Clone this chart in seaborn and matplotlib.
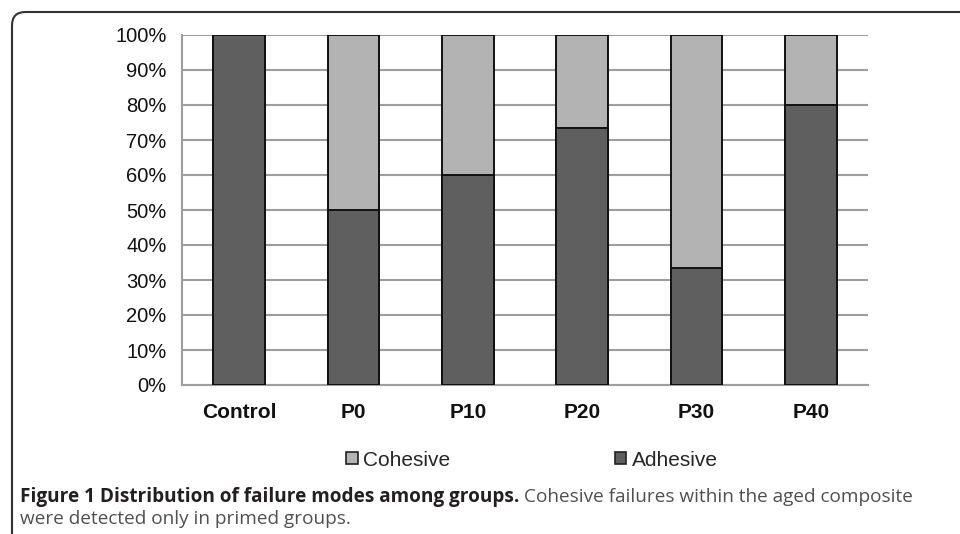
import numpy as np
import pandas as pd
import matplotlib
matplotlib.use("Agg")
import matplotlib.pyplot as plt
from matplotlib.patches import Patch, FancyBboxPatch
import seaborn as sns

# -------------------------------
# Data
# -------------------------------
groups = ["Control", "P0", "P10", "P20", "P30", "P40"]
adhesive = [100, 50, 60, 73.3, 33.3, 80]
cohesive = [0, 50, 40, 26.7, 66.7, 20]

ADH_COLOR = "#5f5f5f"
COH_COLOR = "#b3b3b3"
GRID_COLOR = "#9e9e9e"

df = pd.DataFrame({"group": groups, "adhesive": adhesive, "cohesive": cohesive})
df["total"] = df["adhesive"] + df["cohesive"]

# -------------------------------
# Figure
# -------------------------------
sns.set_style("white")
plt.rcParams["font.family"] = ["Liberation Sans", "DejaVu Sans"]

fig = plt.figure(figsize=(9.6, 5.34), dpi=100)
ax = fig.add_axes([182 / 960, 1 - 385 / 534, (868 - 182) / 960, 350 / 534])

# stacked bars: total (cohesive on top) then adhesive over it
sns.barplot(data=df, x="group", y="total", color=COH_COLOR, width=0.45,
            edgecolor="#111111", linewidth=1.4, saturation=1, ax=ax, zorder=3)
sns.barplot(data=df, x="group", y="adhesive", color=ADH_COLOR, width=0.45,
            edgecolor="#111111", linewidth=1.4, saturation=1, ax=ax, zorder=4)

ax.set_xlim(-0.5, len(groups) - 0.5)
ax.set_ylim(0, 100)
ax.set_yticks(np.arange(0, 101, 10))
ax.set_yticklabels([f"{v}%" for v in range(0, 101, 10)], fontsize=14.5, color="#111111")
ax.set_xticklabels(groups, fontsize=15, fontweight="bold", color="#111111")
ax.set_xlabel("")
ax.set_ylabel("")

ax.yaxis.grid(True, color=GRID_COLOR, linewidth=1.5, zorder=0)
ax.set_axisbelow(True)

for s in ["top", "right"]:
    ax.spines[s].set_visible(False)
for s in ["left", "bottom"]:
    ax.spines[s].set_color(GRID_COLOR)
    ax.spines[s].set_linewidth(1.5)

ax.tick_params(axis="y", length=6, width=1.5, color=GRID_COLOR, pad=5)
ax.tick_params(axis="x", which="major", length=0, pad=13)
ax.set_xticks(np.arange(-0.5, len(groups)), minor=True)
ax.tick_params(axis="x", which="minor", length=6, width=1.5, color=GRID_COLOR)

# -------------------------------
# Legend
# -------------------------------
handles = [Patch(facecolor=COH_COLOR, edgecolor="#222222", linewidth=1.2, label="Cohesive"),
           Patch(facecolor=ADH_COLOR, edgecolor="#222222", linewidth=1.2, label="Adhesive")]
fig.legend(handles=handles, loc="center", bbox_to_anchor=(532 / 960, 1 - 460 / 534),
           ncol=2, frameon=False, fontsize=15, handlelength=0.55, handleheight=0.55,
           handletextpad=0.25, columnspacing=7.9)

# -------------------------------
# Caption and border
# -------------------------------
cap_bold = fig.text(20 / 960, 1 - 497 / 534, "Figure 1 Distribution of failure modes among groups.",
                    fontsize=13.7, fontweight="bold", family="Open Sans", color="#231f20",
                    va="center", ha="left")
renderer = fig.canvas.get_renderer()
bb = cap_bold.get_window_extent(renderer)
fig.text(bb.x1 / 960 + 5 / 960, 1 - 497 / 534,
         "Cohesive failures within the aged composite",
         fontsize=13.7, family="Open Sans", color="#505050", va="center", ha="left")
fig.text(20 / 960, 1 - 519 / 534, "were detected only in primed groups.",
         fontsize=13.7, family="Open Sans", color="#505050", va="center", ha="left")

border = FancyBboxPatch((12 / 960, -0.2), 1.2, 0.2 + 522 / 534,
                        boxstyle="round,pad=0,rounding_size=0.014",
                        mutation_aspect=960 / 534,
                        transform=fig.transFigure, fill=False,
                        edgecolor="#333333", linewidth=1.5, clip_on=False)
fig.patches.append(border)

fig.savefig("out.png", dpi=100)
